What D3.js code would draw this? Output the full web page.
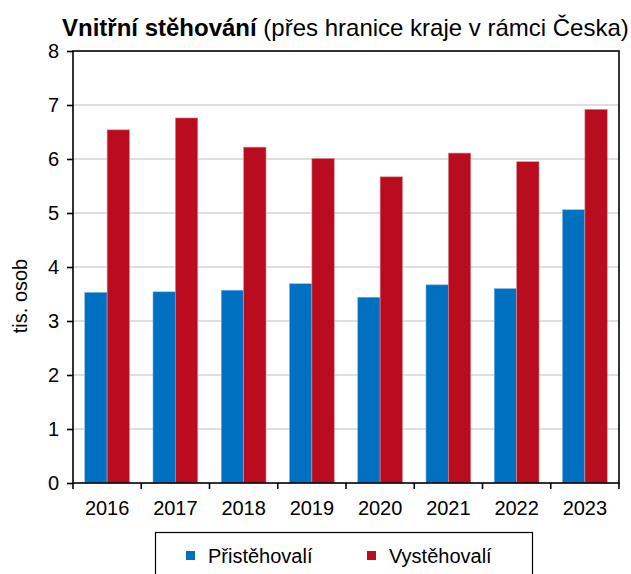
<!DOCTYPE html>
<html><head><meta charset="utf-8">
<script src="https://cdn.jsdelivr.net/npm/d3@7"></script>
<style>body{margin:0;background:#fff}svg{display:block}text{font-family:Arial,"Liberation Sans",sans-serif;fill:#000}</style>
</head><body>
<svg id="c" width="631" height="574"></svg>
<script>
const years = ["2016","2017","2018","2019","2020","2021","2022","2023"];
const prist = [3.53, 3.54, 3.57, 3.69, 3.44, 3.67, 3.60, 5.06];
const vyst = [6.54, 6.76, 6.22, 6.01, 5.67, 6.11, 5.95, 6.92];
const seriesNames = ["Přistěhovalí", "Vystěhovalí"];
const yTicks = [0,1,2,3,4,5,6,7,8];
const colors = ["#0070C0", "#BA0C1F"];

const svg = d3.select("#c");
const L = 73, R = 619, T = 51, B = 483;
const x = d3.scaleBand().domain(years).range([L, R]).padding(0);
const y = d3.scaleLinear().domain([0, 8]).range([B, T]);
const bw = x.bandwidth() * 0.328;
const off = x.bandwidth() * 0.172;

// gridlines
svg.append("g").selectAll("line").data(yTicks.filter(t => t > 0 && t < 8)).join("line")
  .attr("x1", L).attr("x2", R).attr("y1", d => y(d)).attr("y2", d => y(d))
  .attr("stroke", "#c0c0c0").attr("stroke-width", 1.2);

// bars
const series = [prist, vyst];
series.forEach((vals, si) => {
  svg.append("g").selectAll("rect").data(years).join("rect")
    .attr("x", d => x(d) + off + si * bw)
    .attr("y", (d, i) => y(vals[i]))
    .attr("width", bw)
    .attr("height", (d, i) => B - y(vals[i]))
    .attr("fill", colors[si])
    .attr("stroke", si === 0 ? "#7fb6e0" : "#e08a95")
    .attr("stroke-width", 0.6);
});

// frame
svg.append("rect").attr("x", L).attr("y", T).attr("width", R - L).attr("height", B - T)
  .attr("fill", "none").attr("stroke", "#000").attr("stroke-width", 1.6);

// y axis
const yAxis = d3.axisLeft(y).tickValues(yTicks).tickSize(6).tickPadding(8).tickFormat(d3.format("d"));
const gy = svg.append("g").attr("transform", `translate(${L},0)`).call(yAxis);
gy.select(".domain").remove();
gy.selectAll("line").attr("stroke", "#000").attr("stroke-width", 1.6);
gy.selectAll("text").attr("font-size", 20).attr("fill", "#000").attr("font-family", "Arial, 'Liberation Sans', sans-serif");

// x axis ticks between categories
const xb = years.map(d => x(d)).concat([R]);
svg.append("g").selectAll("line").data(xb).join("line")
  .attr("x1", d => d).attr("x2", d => d).attr("y1", B).attr("y2", B + 6)
  .attr("stroke", "#000").attr("stroke-width", 1.6);
svg.append("g").selectAll("text").data(years).join("text")
  .attr("x", d => x(d) + x.bandwidth() / 2).attr("y", 515)
  .attr("text-anchor", "middle").attr("font-size", 20).text(d => d);

// y label
svg.append("text").attr("transform", "translate(27,296) rotate(-90)")
  .attr("text-anchor", "middle").attr("font-size", 20).text("tis. osob");

// title
const title = svg.append("text").attr("x", 62).attr("y", 35.5).attr("font-size", 24);
title.append("tspan").attr("font-weight", "bold").text("Vnitřní stěhování");
title.append("tspan").text(" (přes hranice kraje v rámci Česka)");

// legend
svg.append("rect").attr("x", 155.5).attr("y", 532.5).attr("width", 377).attr("height", 50)
  .attr("fill", "#fff").attr("stroke", "#000").attr("stroke-width", 1.2);
const lx = [186, 367];
seriesNames.forEach((n, i) => {
  svg.append("rect").attr("x", lx[i]).attr("y", 551).attr("width", 9).attr("height", 9).attr("fill", colors[i]);
  svg.append("text").attr("x", lx[i] + 22).attr("y", 562.5).attr("font-size", 20).text(n);
});
</script>
</body></html>
